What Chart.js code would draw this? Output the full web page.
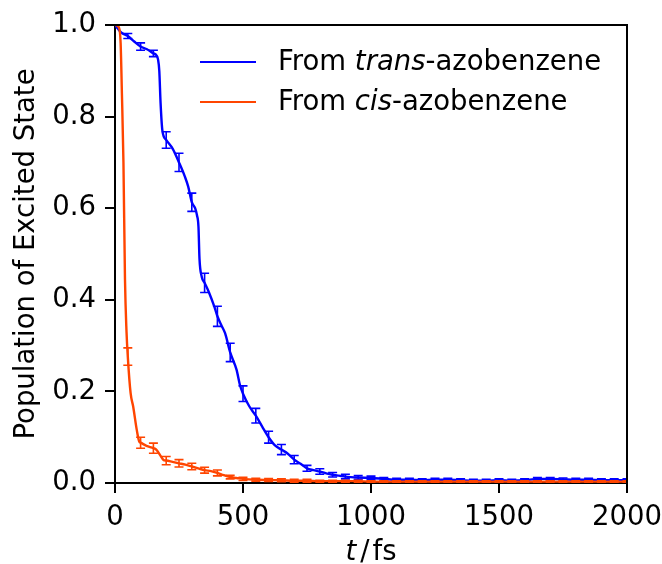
<!DOCTYPE html>
<html>
<head>
<meta charset="utf-8">
<title>Population of Excited State</title>
<script src="https://cdn.jsdelivr.net/npm/chart.js@4.4.0/dist/chart.umd.min.js"></script>
<style>
  html, body { margin: 0; padding: 0; background: #fff; }
  #popChart { display: block; }
</style>
</head>
<body>
<canvas id="popChart" width="662" height="564"></canvas>
<script>
// trans-azobenzene: excited-state population vs time (fs)
const transTime = [0, 10, 25, 50, 75, 100, 125, 150, 160, 168, 173, 178, 185, 200, 225, 250, 273, 286, 300, 313, 320, 326, 330, 339, 350, 368, 388, 400, 415, 430, 450, 475, 488, 500, 525, 550, 575, 600, 625, 650, 675, 700, 725, 750, 775, 800, 825, 850, 875, 900, 950, 1000, 1050, 1100, 1150, 1200, 1250, 1300, 1350, 1400, 1450, 1500, 1550, 1600, 1650, 1700, 1750, 1800, 1850, 1900, 1950, 2000];
const transPop = [1.000, 0.993, 0.983, 0.976, 0.964, 0.953, 0.947, 0.938, 0.935, 0.925, 0.900, 0.830, 0.770, 0.749, 0.730, 0.700, 0.669, 0.647, 0.613, 0.600, 0.585, 0.560, 0.490, 0.450, 0.437, 0.415, 0.385, 0.364, 0.345, 0.327, 0.285, 0.247, 0.214, 0.195, 0.167, 0.147, 0.123, 0.100, 0.082, 0.073, 0.064, 0.051, 0.042, 0.032, 0.028, 0.025, 0.021, 0.018, 0.016, 0.014, 0.012, 0.011, 0.009, 0.007, 0.007, 0.006, 0.007, 0.007, 0.006, 0.005, 0.005, 0.006, 0.005, 0.006, 0.009, 0.009, 0.008, 0.007, 0.007, 0.006, 0.006, 0.006];

// cis-azobenzene
const cisTime = [0, 15, 22, 27, 33, 39, 45, 50, 61, 71, 85, 95, 100, 123, 150, 161, 175, 190, 200, 225, 250, 275, 300, 325, 350, 375, 400, 425, 450, 475, 500, 550, 600, 650, 700, 750, 800, 850, 900, 950, 1000, 1050, 1100, 1150, 1200, 1250, 1300, 1350, 1400, 1450, 1500, 1550, 1600, 1650, 1700, 1750, 1800, 1850, 1900, 1950, 2000];
const cisPop = [1.000, 0.995, 0.960, 0.850, 0.700, 0.445, 0.330, 0.276, 0.196, 0.167, 0.116, 0.090, 0.088, 0.081, 0.076, 0.073, 0.062, 0.050, 0.049, 0.046, 0.043, 0.040, 0.036, 0.032, 0.028, 0.026, 0.022, 0.017, 0.013, 0.011, 0.009, 0.007, 0.0065, 0.006, 0.005, 0.005, 0.004, 0.004, 0.004, 0.004, 0.003, 0.003, 0.003, 0.003, 0.003, 0.003, 0.003, 0.003, 0.003, 0.003, 0.003, 0.003, 0.003, 0.003, 0.003, 0.003, 0.003, 0.003, 0.003, 0.003, 0.003];

// error bars every 50 fs (half-widths)
const barTime = [50, 100, 150, 200, 250, 300, 350, 400, 450, 500, 550, 600, 650, 700, 750, 800, 850, 900, 950, 1000, 1050, 1100, 1150, 1200, 1250, 1300, 1350, 1400, 1450, 1500, 1550, 1600, 1650, 1700, 1750, 1800, 1850, 1900, 1950, 2000];
const transErr = [0.0055, 0.008, 0.007, 0.018, 0.020, 0.020, 0.021, 0.022, 0.020, 0.017, 0.016, 0.013, 0.011, 0.009, 0.0065, 0.006, 0.005, 0.005, 0.004, 0.004, 0.003, 0.003, 0.003, 0.003, 0.003, 0.003, 0.003, 0.003, 0.003, 0.003, 0.003, 0.003, 0.003, 0.003, 0.003, 0.003, 0.003, 0.003, 0.003, 0.003];
const cisErr = [0.019, 0.012, 0.011, 0.009, 0.008, 0.007, 0.0065, 0.0065, 0.004, 0.0037, 0.003, 0.003, 0.003, 0.003, 0.003, 0.002, 0.002, 0.002, 0.002, 0.002, 0.002, 0.002, 0.002, 0.002, 0.002, 0.002, 0.002, 0.002, 0.002, 0.002, 0.002, 0.002, 0.002, 0.002, 0.002, 0.002, 0.002, 0.002, 0.002, 0.002];

const xTicks = [0, 500, 1000, 1500, 2000];
const yTicks = [0.0, 0.2, 0.4, 0.6, 0.8, 1.0];

const BLUE = '#0000ff';
const ORANGE = '#ff4500';
const FONT_FAMILY = '"DejaVu Sans", sans-serif';
const FONT_SIZE = 27.5;

function toPoints(xs, ys) {
    return xs.map((x, i) => ({ x: x, y: ys[i] }));
}

function setFont(ctx, italic) {
    ctx.font = (italic ? 'italic ' : '') + FONT_SIZE + 'px ' + FONT_FAMILY;
}

const errorsByDataset = [transErr, cisErr];

// error bars, axis frame, legend and axis titles
const decorPlugin = {
    id: 'decor',
    afterDatasetDraw(chart, args) {
        const errs = errorsByDataset[args.index];
        if (!errs) return;
        const ds = chart.data.datasets[args.index];
        const xs = chart.scales.x, ys = chart.scales.y;
        const area = chart.chartArea;
        const ctx = chart.ctx;
        ctx.save();
        ctx.beginPath();
        ctx.rect(area.left, area.top, area.right - area.left, area.bottom - area.top);
        ctx.clip();
        ctx.strokeStyle = ds.borderColor;
        ctx.lineWidth = 1.6;
        barTime.forEach((t, i) => {
            const pt = ds.data.find(p => p.x === t);
            if (!pt) return;
            const px = xs.getPixelForValue(t);
            const yHi = ys.getPixelForValue(pt.y + errs[i]);
            const yLo = ys.getPixelForValue(pt.y - errs[i]);
            ctx.beginPath();
            ctx.moveTo(px, yHi); ctx.lineTo(px, yLo);
            ctx.moveTo(px - 4.5, yHi); ctx.lineTo(px + 4.5, yHi);
            ctx.moveTo(px - 4.5, yLo); ctx.lineTo(px + 4.5, yLo);
            ctx.stroke();
        });
        ctx.restore();
    },
    afterDraw(chart) {
        const ctx = chart.ctx;
        const area = chart.chartArea;
        ctx.save();

        // top and right spines
        ctx.strokeStyle = '#000';
        ctx.lineWidth = 2;
        ctx.beginPath();
        ctx.moveTo(area.left, area.top);
        ctx.lineTo(area.right, area.top);
        ctx.lineTo(area.right, area.bottom);
        ctx.stroke();

        // legend
        const entries = [
            { color: BLUE, parts: [['From ', false], ['trans', true], ['-azobenzene', false]], y: 62 },
            { color: ORANGE, parts: [['From ', false], ['cis', true], ['-azobenzene', false]], y: 102 }
        ];
        ctx.textBaseline = 'middle';
        ctx.fillStyle = '#000';
        entries.forEach(e => {
            ctx.strokeStyle = e.color;
            ctx.lineWidth = 2.2;
            ctx.beginPath();
            ctx.moveTo(200, e.y);
            ctx.lineTo(256, e.y);
            ctx.stroke();
            let x = 278;
            e.parts.forEach(([txt, it]) => {
                setFont(ctx, it);
                ctx.fillText(txt, x, e.y + 1);
                x += ctx.measureText(txt).width;
            });
        });

        // x axis title: t / fs with thin gaps
        ctx.textBaseline = 'alphabetic';
        const parts = [['t', true, 4], ['/', false, 3], ['fs', false, 0]];
        let total = 0;
        parts.forEach(([txt, it, gap]) => {
            setFont(ctx, it);
            total += ctx.measureText(txt).width + gap;
        });
        let x = (area.left + area.right) / 2 - total / 2;
        parts.forEach(([txt, it, gap]) => {
            setFont(ctx, it);
            ctx.fillText(txt, x, 560);
            x += ctx.measureText(txt).width + gap;
        });

        // y axis title
        ctx.save();
        ctx.translate(27, (area.top + area.bottom) / 2);
        ctx.rotate(-Math.PI / 2);
        ctx.textAlign = 'center';
        ctx.textBaseline = 'middle';
        setFont(ctx, false);
        ctx.fillText('Population of Excited State', 0, 0);
        ctx.restore();

        ctx.restore();
    }
};

const ctx = document.getElementById('popChart').getContext('2d');
const popChart = new Chart(ctx, {
    type: 'line',
    data: {
        datasets: [{
            label: 'From trans-azobenzene',
            data: toPoints(transTime, transPop),
            borderColor: BLUE,
            borderWidth: 2.4,
            pointRadius: 0,
            cubicInterpolationMode: 'monotone',
            fill: false,
            order: 1
        }, {
            label: 'From cis-azobenzene',
            data: toPoints(cisTime, cisPop),
            borderColor: ORANGE,
            borderWidth: 2.4,
            pointRadius: 0,
            cubicInterpolationMode: 'monotone',
            fill: false,
            order: 0
        }]
    },
    options: {
        responsive: false,
        animation: false,
        layout: { padding: { top: 25, right: 35, left: 0, bottom: 0 } },
        plugins: {
            legend: { display: false },
            tooltip: { enabled: false }
        },
        scales: {
            x: {
                type: 'linear',
                min: 0,
                max: 2000,
                afterBuildTicks: scale => { scale.ticks = xTicks.map(v => ({ value: v })); },
                afterFit: scale => {
                    scale.height = 564 - 483;
                    scale.paddingLeft = 0;
                    scale.paddingRight = 0;
                },
                ticks: {
                    color: '#000',
                    font: { family: FONT_FAMILY, size: FONT_SIZE },
                    padding: 8,
                    maxRotation: 0,
                    autoSkip: false,
                    callback: v => String(v)
                },
                grid: { drawOnChartArea: false, drawTicks: true, tickLength: 10, color: '#000', lineWidth: 2 },
                border: { display: true, color: '#000', width: 2 }
            },
            y: {
                type: 'linear',
                min: 0,
                max: 1,
                afterBuildTicks: scale => { scale.ticks = yTicks.map(v => ({ value: v })); },
                afterFit: scale => {
                    scale.width = 115;
                    scale.paddingTop = 0;
                    scale.paddingBottom = 0;
                },
                ticks: {
                    color: '#000',
                    font: { family: FONT_FAMILY, size: FONT_SIZE },
                    padding: 9,
                    autoSkip: false,
                    callback: v => Number(v).toFixed(1)
                },
                grid: { drawOnChartArea: false, drawTicks: true, tickLength: 10, color: '#000', lineWidth: 2 },
                border: { display: true, color: '#000', width: 2 }
            }
        }
    },
    plugins: [decorPlugin]
});
</script>
</body>
</html>
